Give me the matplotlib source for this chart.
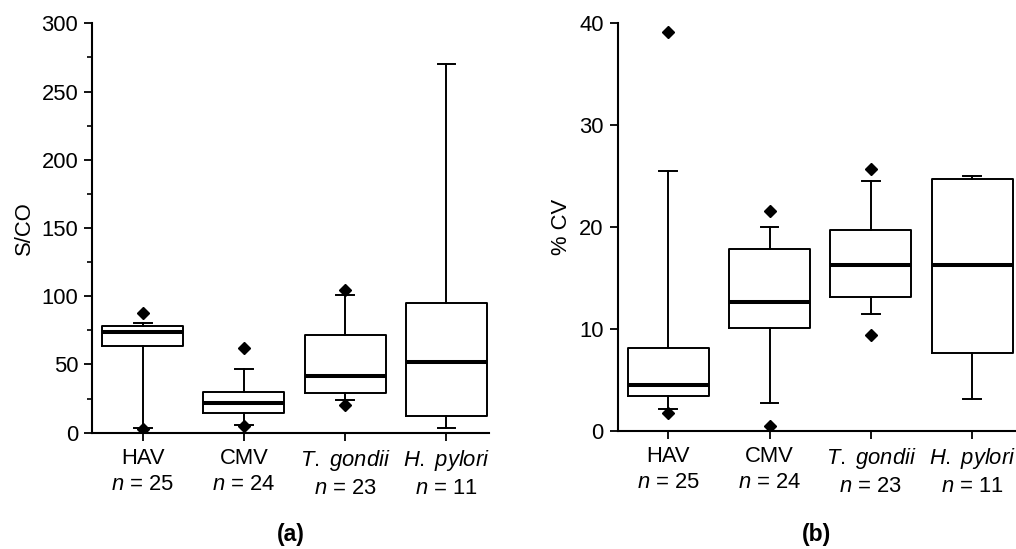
import matplotlib
matplotlib.use("Agg")
import matplotlib.pyplot as plt
from matplotlib.ticker import MultipleLocator

plt.rcParams['font.family'] = ['Liberation Sans', 'DejaVu Sans']
plt.rcParams['mathtext.fontset'] = 'custom'
plt.rcParams['mathtext.rm'] = 'Liberation Sans'
plt.rcParams['mathtext.it'] = 'Liberation Sans:italic'

# ---- data ----
categories = ["HAV", "CMV", r"$\mathit{T.}$ $\mathit{gondii}$", r"$\mathit{H.}$ $\mathit{pylori}$"]
n_counts = [25, 24, 23, 11]

# Panel (a): S/CO
sco_q1 = [63.2, 14.2, 29.3, 12.6]
sco_med = [73.6, 21.8, 41.9, 51.8]
sco_q3 = [78.3, 29.9, 71.6, 94.8]
sco_whislo = [3.7, 5.9, 23.9, 3.2]
sco_whishi = [80.6, 46.6, 100.9, 270.5]
sco_fliers = [[87.8, 2.7], [62.3, 5.1], [104.8, 20.6], []]

# Panel (b): % CV
cv_q1 = [3.43, 10.07, 13.14, 7.65]
cv_med = [4.51, 12.65, 16.2, 16.27]
cv_q3 = [8.07, 17.8, 19.67, 24.7]
cv_whislo = [2.12, 2.68, 11.4, 3.14]
cv_whishi = [25.5, 19.97, 24.5, 25.0]
cv_fliers = [[39.1, 1.76], [21.5, 0.49], [25.7, 9.38], []]

xtick_labels = [f"{c}\n$n$ = {n}" for c, n in zip(categories, n_counts)]

FS = 15.8


def make_stats(q1, med, q3, lo, hi, fl):
    return [dict(q1=a, med=b, q3=c, whislo=d, whishi=e, fliers=f)
            for a, b, c, d, e, f in zip(q1, med, q3, lo, hi, fl)]


fig = plt.figure(figsize=(10.16, 5.49), dpi=100)
ax1 = fig.add_axes([0.0906, 0.2118, 0.3907, 0.7457])
ax2 = fig.add_axes([0.608, 0.2155, 0.3907, 0.7432])

box_kw = dict(
    widths=0.8,
    capwidths=0.175,
    boxprops=dict(color='black', linewidth=1.4),
    whiskerprops=dict(color='black', linewidth=1.4),
    capprops=dict(color='black', linewidth=1.4),
    medianprops=dict(color='black', linewidth=2.9),
    flierprops=dict(marker='D', markerfacecolor='black', markeredgecolor='black',
                    markersize=6.3, linestyle='none'),
    showfliers=True,
    patch_artist=False,
)

positions = [1, 2, 3, 4]
ax1.bxp(make_stats(sco_q1, sco_med, sco_q3, sco_whislo, sco_whishi, sco_fliers),
        positions=positions, **box_kw)
ax2.bxp(make_stats(cv_q1, cv_med, cv_q3, cv_whislo, cv_whishi, cv_fliers),
        positions=positions, **box_kw)

for ax in (ax1, ax2):
    ax.set_xlim(0.5, 4.42)
    ax.spines['top'].set_visible(False)
    ax.spines['right'].set_visible(False)
    ax.spines['left'].set_linewidth(1.5)
    ax.spines['bottom'].set_linewidth(1.5)
    ax.set_xticks(positions)
    ax.set_xticklabels(xtick_labels, fontsize=FS, linespacing=1.3)
    ax.tick_params(axis='both', which='major', direction='out', length=6,
                   width=1.3, labelsize=FS, pad=4)
    ax.tick_params(axis='x', pad=5)

ax1.set_ylim(0, 300)
ax1.yaxis.set_major_locator(MultipleLocator(50))
ax1.yaxis.set_minor_locator(MultipleLocator(25))
ax1.tick_params(axis='y', which='minor', direction='out', length=3.5, width=1.2)
ax1.set_ylabel("S/CO", fontsize=FS, labelpad=5)

ax2.set_ylim(0, 40)
ax2.yaxis.set_major_locator(MultipleLocator(10))
ax2.set_ylabel("% CV", fontsize=FS, labelpad=5)

fig.text(0.0906 + 0.3907 / 2, 0.006, "(a)", ha='center', va='bottom',
         fontsize=16.5, fontweight='bold')
fig.text(0.608 + 0.3907 / 2, 0.006, "(b)", ha='center', va='bottom',
         fontsize=16.5, fontweight='bold')

fig.savefig("out.png", dpi=100)
